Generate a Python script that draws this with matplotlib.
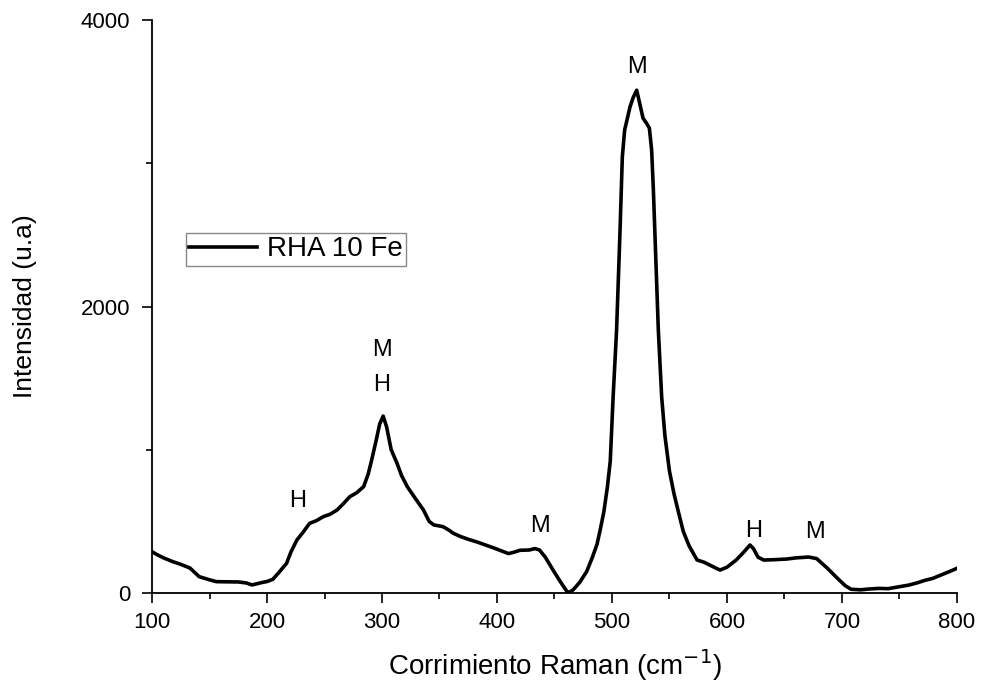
import matplotlib
matplotlib.use("Agg")
import matplotlib.pyplot as plt
from matplotlib.ticker import MultipleLocator

plt.rcParams["font.family"] = ["Liberation Sans", "DejaVu Sans"]

# Raman spectrum
shift = [100, 105, 110, 118, 125, 133, 141, 150, 156, 165, 175, 182, 187, 195, 200,
         205, 210, 217, 221, 226, 231, 237, 243, 249, 255, 261, 266, 272, 278, 284,
         288, 291, 295, 298, 301, 304, 308, 313, 317, 322, 329, 336, 341, 345, 350,
         353, 358, 362, 368, 375, 383, 390, 397, 405, 410, 415, 420, 428, 433, 437,
         442, 448, 455, 460, 462, 466, 472, 478, 483, 487, 490, 493, 496, 498.5, 501,
         504, 507, 509, 511, 513.5, 515.7, 518.5, 521.5, 524, 527, 530, 532.5, 534.5, 536, 537.4,
         540.3, 543.2, 546, 550, 554, 558, 562, 567, 574, 580, 585, 590, 594, 600, 608,
         614, 620, 623, 627, 632, 640, 652, 660, 671, 678, 687, 697, 703, 708, 716,
         724, 732, 740, 750, 758, 766, 772, 779, 786, 793, 800]
intensity = [288, 265, 245, 219, 200, 174, 114, 92, 79, 78, 77, 70, 56, 72, 80,
             95, 140, 207, 290, 370, 420, 486, 505, 533, 550, 580, 620, 672, 700, 742,
             830, 928, 1068, 1180, 1235, 1160, 1000, 907, 820, 742, 660, 580, 500, 475, 468,
             463, 440, 417, 395, 375, 355, 335, 315, 290, 275, 285, 298, 300, 310, 300,
             250, 170, 80, 20, 2, 20, 75, 150, 250, 340, 450, 570, 740, 920, 1370,
             1836, 2530, 3045, 3232, 3320, 3394, 3460, 3510, 3420, 3315, 3280, 3246, 3092, 2813, 2500,
             1836, 1370, 1100, 850, 690, 558, 430, 330, 230, 215, 195, 175, 160, 180, 230,
             280, 335, 310, 250, 230, 232, 237, 245, 251, 240, 175, 95, 50, 26, 22,
             28, 32, 30, 44, 55, 72, 88, 102, 125, 148, 172]

# peak assignments (H = hematite, M = magnetite)
peak_labels = ["M", "M", "H", "H", "M", "H", "M"]
peak_x = [521.5, 300, 300, 227, 437, 623.5, 676.5]
peak_y = [3670, 1696, 1455, 642, 468, 436, 426]

fig = plt.figure(figsize=(9.82, 6.86), dpi=100)
ax = fig.add_axes([0.1548, 0.1356, 0.8197, 0.8352])

ax.plot(shift, intensity, color="black", lw=2.6, label="RHA 10 Fe")

for lab, x, y in zip(peak_labels, peak_x, peak_y):
    ax.text(x, y, lab, ha="center", va="center", fontsize=17)

ax.set_xlim(100, 800)
ax.set_ylim(0, 4000)
ax.xaxis.set_major_locator(MultipleLocator(100))
ax.xaxis.set_minor_locator(MultipleLocator(50))
ax.yaxis.set_major_locator(MultipleLocator(2000))
ax.yaxis.set_minor_locator(MultipleLocator(1000))
ax.tick_params(which="major", direction="out", length=7.5, width=1.2, labelsize=16)
ax.tick_params(which="minor", direction="out", length=4.3, width=1.2)
ax.tick_params(axis="x", which="major", pad=6)
ax.tick_params(axis="y", which="major", pad=8)

for side in ["top", "right"]:
    ax.spines[side].set_visible(False)
for side in ["left", "bottom"]:
    ax.spines[side].set_linewidth(1.3)

ax.set_xlabel("Corrimiento Raman (cm$^{-1}$)", fontsize=20, labelpad=10)
ax.set_ylabel("Intensidad (u.a)", fontsize=19, labelpad=32)

leg = ax.legend(loc="upper left", bbox_to_anchor=(186 / 982, 1 - 233 / 686),
                bbox_transform=fig.transFigure, borderaxespad=0, fancybox=False,
                fontsize=20, handlelength=2.45, handletextpad=0.35, borderpad=0.12,
                framealpha=1)
leg.get_frame().set_edgecolor("#888888")
leg.get_frame().set_linewidth(1.0)

fig.savefig("out.png", dpi=100)
